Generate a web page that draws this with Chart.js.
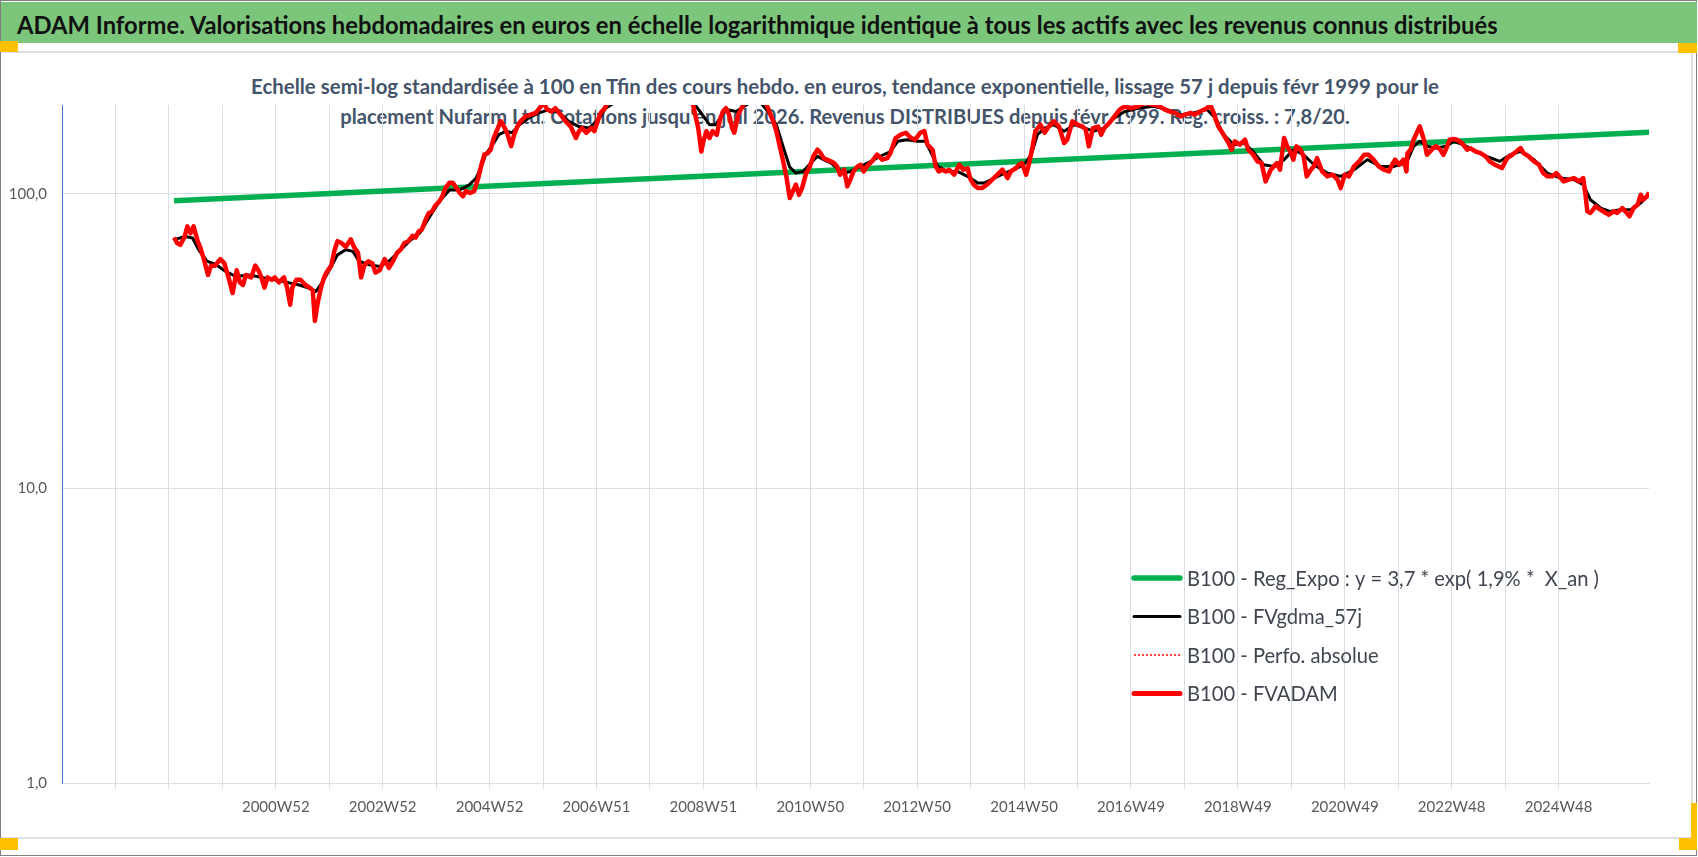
<!DOCTYPE html>
<html lang="fr">
<head>
<meta charset="utf-8">
<title>ADAM Informe - Nufarm Ltd.</title>
<script src="https://cdn.jsdelivr.net/npm/chart.js@4.4.1/dist/chart.umd.min.js"></script>
<style>
  html, body { margin: 0; padding: 0; background: #fff; }
  #page { position: relative; width: 1698px; height: 857px; overflow: hidden; font-family: Lato, "Open Sans", sans-serif; }
  .abs { position: absolute; }
  #frame { left: 0; top: 0; width: 1695px; height: 854px; border: 1.5px solid #7f7f7f; }
  #banner { left: 1px; top: 2px; width: 1696px; height: 41px; background: #7cc67c; }
  #title { left: 16px; top: 23px; transform: translateY(-50%); white-space: nowrap; font-weight: bold; color: #111; font-size: 22px; }
  .rule { background: #dcdfe4; }
  .handle { background: #ffc000; }
  .sub { left: 845px; transform: translate(-50%, -50%); white-space: nowrap; font-weight: bold; color: #44546a; font-size: 17px; z-index: 1; }
  #chart { position: absolute; left: 0; top: 0; z-index: 2; }
</style>
</head>
<body>
<div id="page">
  <div id="frame" class="abs"></div>
  <div id="banner" class="abs"><span id="title" class="abs">ADAM Informe. Valorisations hebdomadaires en euros en échelle logarithmique identique à tous les actifs avec les revenus connus distribués</span></div>
  <div class="abs rule" style="left:1px;top:51px;width:1691px;height:2px"></div>
  <div class="abs rule" style="left:1px;top:837px;width:1691px;height:2px"></div>
  <div class="abs rule" style="left:1691px;top:52px;width:2px;height:786px"></div>
  <div class="abs handle" style="left:0;top:41px;width:18px;height:11px"></div>
  <div class="abs handle" style="left:1678px;top:43px;width:19px;height:10px"></div>
  <div class="abs handle" style="left:0;top:838px;width:18px;height:12px"></div>
  <div class="abs handle" style="left:1679px;top:838px;width:18px;height:12px"></div>
  <div class="abs handle" style="left:1691px;top:803px;width:6px;height:47px"></div>
  <div id="sub1" class="abs sub" style="top:86px">Echelle semi-log standardisée à 100 en Tfin des cours hebdo. en euros, tendance exponentielle, lissage 57 j depuis févr 1999 pour le</div>
  <div id="sub2" class="abs sub" style="top:116px">placement Nufarm Ltd. Cotations jusqu'en juil 2026. Revenus DISTRIBUES depuis févr 1999. Reg. croiss. : 7,8/20.</div>
  <canvas id="chart" width="1698" height="857"></canvas>
</div>
<script>
// x = week number counted from the first category of the axis (52 weeks between gridlines)
const tickLabels = ["", "", "", "", "2000W52", "", "2002W52", "", "2004W52", "", "2006W51", "", "2008W51", "",
  "2010W50", "", "2012W50", "", "2014W50", "", "2016W49", "", "2018W49", "", "2020W49", "", "2022W48", "", "2024W48", ""];

const fvWeeks = [109,112,115,119,122,125,128,132,135,138,142,145,149,154,158,162,166,170,173,176,179,184,188,191,194,197,200,204,207,211,
  216,219,222,224,228,232,237,241,244,246,249,252,255,258,262,265,268,272,276,281,284,288,291,294,298,302,305,309,314,318,
  322,326,330,333,337,341,344,347,350,354,357,360,363,367,370,373,377,380,384,387,390,393,397,401,405,408,411,
  414,417,420,424,427,430,433,437,440,443,446,451,456,461,466,469,472,476,480,485,490,495,500,503,506,510,515,518,521,524,
  528,531,540,552,565,580,595,605,614,616,619,622,624,627,630,633,637,640,643,646,649,652,654,658,661,664,670,678,685,688,
  692,695,698,701,705,708,711,714,717,720,724,727,
  731,735,738,741,744,748,751,754,757,761,764,767,770,774,777,780,783,788,793,798,803,806,811,816,821,826,830,835,839,842,
  847,850,853,856,860,863,868,873,877,881,884,887,891,895,900,905,910,915,920,923,928,931,934,938,941,944,947,952,956,960,
  965,970,975,978,983,988,993,996,999,1003,1008,1011,1014,1019,1024,1029,1034,1040,1047,1053,
  1062,1068,1073,1078,1083,1088,1093,1098,1102,1107,1114,1117,1120,1125,1128,1132,1135,1138,1141,1146,
  1151,1154,1159,1163,1167,1171,1176,1179,1182,1185,1189,1192,1195,1198,1201,1205,1208,1211,1215,1218,
  1221,1226,1231,1236,1241,1244,1248,1252,1257,1262,1267,1271,1276,1281,1286,1291,1294,1297,1301,
  1305,1308,1309,1312,1315,1318,1321,1323,1325,1328,1331,1334,1337,1341,1344,1347,1350,1354,1357,1362,
  1367,1370,1375,1380,1385,1389,1394,1401,1406,1411,1415,1419,1422,1427,1432,1437,1441,1445,1450,1454,
  1458,1461,1466,1471,1476,1480,1482,1484,1487,1492,1497,1502,1505,1510,1513,1518,1521,1525,1529,1533,1536,1538,1542,1544];

const fvadam = [71,68,67,71,77.5,73.5,77.5,69,65,60,53,57,57,60,58,52,46,55,50,49,53,52,57,55,52,48,52,51,52,50,
  52,48,42,48,51,51,49,48,47,37,43,48,52,54.5,57,64,69,68,66,70,66,63,52,57,59,58,54,55,60,56,
  59,63,65,68,69,72,71,74.5,75.5,82,86,87,91,94,98,104.5,109,109,104.5,100.5,98,102,100.5,102,113,125,136,
  137,141,154.5,167,176,169,161,145,159,169,176,183,185.5,188,198,203,193,190,195,185.5,176,169,154.5,163,167,161,167,163,176,188,
  195,203,215,228,240,250,232,215,200.5,185.5,167,139,150.6,163,154.5,163,158.6,178,190,195,185.5,167,161,185.5,195,203,212,214,203,190,
  176,163,146.7,132,113,96.7,101.8,107.3,99.2,104.5,117.5,122,
  134,141,137.4,132,130.5,128.8,127.1,123.8,116,120.6,105.9,111.6,119,123.8,125.4,119,123.8,128.8,135.6,130.5,132,137.4,154.5,158.6,161,154.5,152.5,161,163,146.7,
  141,123.8,119,120.6,119,120.6,116,125.4,120.6,122,111.6,107.3,104.5,104.5,107.3,111.6,116,120.6,113,119,122,125.4,127.1,116,127.1,143,163,171.5,161,169,
  176,169,148.6,152.5,176,171.5,169,165,144.8,167,169,158.6,167,173.8,183,193,198,195,198,203,
  200.5,198,193,190,188,183,185.5,188,185.5,190,195,200.5,190,169,163,154.5,148.6,141,150.6,146.7,
  152.5,141,135.6,128.8,127.1,110.1,120.6,123.8,127.1,120.6,154.5,144.8,139,130.5,144.8,141,133.9,114.5,120.6,123.8,
  132,119,114.5,116,111.6,104.5,116,114.5,123.8,128.8,135.6,135.6,130.5,123.8,120.6,119,125.4,130.5,125.4,
  130.5,119,137.4,141,152.5,160.7,169.3,160.7,152.5,135.6,139.2,142.9,144.8,141,135.6,142.9,152.5,153.3,152.5,148.6,
  141,142.9,139.2,137.4,133.9,128.8,125.4,122.2,132.2,135.6,139.2,142.9,137.4,133.9,128.8,125.4,117.5,114.5,114.5,117.5,
  113,110.1,111.6,113,110.1,113,100.5,87.1,86,90.6,88.2,86,84.9,87.1,86,89.4,87.1,83.8,89.4,91.8,99.2,95.4,97.9,101];

const gdWeeks = [110,120,127,133,141,150,159,169,182,198,214,231,240,247,254,262,268,276,283,289,299,309,318,328,338,348,358,367,377,387,396,403,410,
  412,419,425,432,438,445,454,464,474,484,493,503,513,523,529,545,575,600,617,630,636,646,656,666,675,680,688,695,701,708,714,721,727,
  735,741,748,754,761,767,777,787,796,806,813,822,832,840,845,852,861,871,881,891,897,907,917,926,936,943,949,956,965,975,985,995,1004,1014,1024,1034,1047,
  1062,1075,1088,1101,1114,1122,1130,1140,1150,1159,1169,1179,1189,1198,1208,1218,1231,1244,1257,1270,1283,1296,
  1308,1315,1321,1328,1337,1347,1354,1363,1373,1386,1399,1409,1419,1432,1445,1458,1471,1480,1487,1497,1506,1516,1526,1536,1544];

const fvgdma = [70,71.6,70.7,64.5,59,57.4,54.5,52.4,53,51.7,50.4,49,47.8,46.6,50.4,56.6,62,64.5,63.7,59,57.4,56.6,59,63.7,69,73.5,83.8,94,103,103,107,113,129,
  135.6,146.7,158.6,163,161,171.5,180.7,188,193,188,176,169,167,180.7,195,212,232,218,198,171.5,171.5,193,190,200.5,208,203,188,171.5,146.7,123,117.5,119,125.4,
  134,130.5,127.1,122.2,117.5,119,123.8,128.8,134,139,150.6,152.5,150.6,150.6,139,123.8,119,119,114.5,108.7,108.7,113,117.5,120.6,125.4,135.6,158.6,167,171.5,163,171.5,167,163,167,180.7,190,195,
  198,193,185.5,188,193,180.7,158.6,146.7,148.6,139,125.4,123.8,130.5,141,135.6,125.4,117.5,114.5,120.6,130.5,123.8,123.8,
  127.1,144.8,150.6,144.8,142.9,144.8,150.6,146.7,141,133.9,128.8,135.6,139.2,130.5,117.5,113,111.6,107.3,95.4,89.4,87.1,88.2,88.2,93,99.2];

// exponential trend: start and end of the fitted line
const regWeeks = [109, 1544];
const regValues = [94.6, 161.5];

const yTicks = [1, 10, 100];

function pts(xs, ys) { return xs.map((x, i) => ({ x: x, y: ys[i] })); }

// fit the html texts to the widths seen in the picture
function fit(id, w) {
  const el = document.getElementById(id);
  const fs = parseFloat(getComputedStyle(el).fontSize);
  el.style.fontSize = (fs * w / el.getBoundingClientRect().width) + 'px';
}
fit('title', 1481);
fit('sub1', 1188);
fit('sub2', 1010);

Chart.defaults.font.family = 'Lato, "Open Sans", sans-serif';
const gridCol = '#d9dde4';
const legendOrder = [3, 2, 1, 0];

const legendBox = {
  id: 'legendBox',
  afterDatasetsDraw(chart) {
    const ctx = chart.ctx;
    ctx.save();
    ctx.font = '20px Lato';
    const w0 = ctx.measureText(chart.data.datasets[3].label).width;
    ctx.font = (20 * 412 / w0).toFixed(2) + 'px Lato';
    ctx.textBaseline = 'middle';
    ctx.fillStyle = '#404650';
    legendOrder.forEach((idx, i) => {
      const ds = chart.data.datasets[idx];
      const y = 578 + i * 38.5;
      ctx.strokeStyle = ds.borderColor;
      ctx.lineWidth = ds.legendWidth;
      ctx.lineCap = ds.borderDash ? 'butt' : 'round';
      ctx.setLineDash(ds.borderDash || []);
      ctx.beginPath();
      ctx.moveTo(1134, y);
      ctx.lineTo(1180, y);
      ctx.stroke();
      ctx.setLineDash([]);
      ctx.fillText(ds.label, 1187, y + 1);
    });
    ctx.restore();
  }
};

new Chart(document.getElementById('chart'), {
  type: 'line',
  data: {
    datasets: [
      { label: 'B100 - FVADAM', data: pts(fvWeeks, fvadam), borderColor: '#ff0000', borderWidth: 4.5, legendWidth: 5 },
      { label: 'B100 - Perfo. absolue', data: pts(fvWeeks, fvadam), borderColor: '#ff0000', borderWidth: 1.5, borderDash: [2, 2], legendWidth: 1.5 },
      { label: 'B100 - FVgdma_57j', data: pts(gdWeeks, fvgdma), borderColor: '#000000', borderWidth: 3, legendWidth: 3 },
      { label: 'B100 - Reg_Expo : y = 3,7 * exp( 1,9% *  X_an )', data: pts(regWeeks, regValues), borderColor: '#00b050', borderWidth: 5.5, legendWidth: 5.5 }
    ]
  },
  options: {
    responsive: false,
    animation: false,
    layout: { padding: { top: 105, right: 49, left: 0, bottom: 0 } },
    elements: { point: { radius: 0 }, line: { tension: 0, borderJoinStyle: 'round' } },
    plugins: { legend: { display: false }, tooltip: { enabled: false } },
    scales: {
      x: {
        type: 'linear', min: 0, max: 1544,
        afterBuildTicks: s => { s.ticks = s.ticks.filter(t => t.value % 52 === 0); },
        afterFit: s => { s.height = 74; },
        ticks: { stepSize: 52, autoSkip: false, maxRotation: 0, padding: 9, color: '#595959', font: { size: 15 },
          callback: v => tickLabels[v / 52] || '' },
        grid: { color: c => (c.tick && c.tick.value === 0 ? 'rgba(0,0,0,0)' : gridCol), tickLength: 6 },
        border: { color: gridCol }
      },
      y: {
        type: 'logarithmic', min: 1, max: 200,
        afterBuildTicks: s => { s.ticks = yTicks.map(v => ({ value: v })); },
        afterFit: s => { s.width = 62; },
        ticks: { padding: 15, color: '#595959', font: { size: 15 },
          callback: v => v.toFixed(1).replace('.', ',') },
        grid: { color: gridCol, drawTicks: false },
        border: { color: '#4472c4', width: 1 }
      }
    }
  },
  plugins: [legendBox]
});
</script>
</body>
</html>
